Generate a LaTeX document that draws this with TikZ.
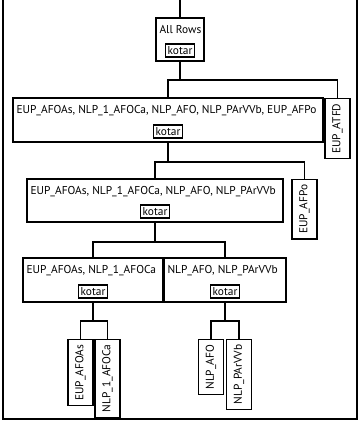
\documentclass[tikz,border=0pt]{standalone}
\usepackage{fontspec}
\setmainfont{PT Sans}
\usetikzlibrary{positioning}

\begin{document}
\begin{tikzpicture}
      [ x=1pt, y=-1pt
      , every node/.style={font=\fontsize{11.4}{13}\selectfont}
      , group/.style={draw, line width=1.3pt, inner sep=0pt}
      , title/.style={inner sep=0pt}
      , kotarbox/.style={draw, line width=1.3pt, inner xsep=2pt, inner ysep=2.5pt}
      , leaf/.style={draw, line width=1.3pt, rotate=90, anchor=east, minimum height=25pt, inner xsep=5pt}
      , link/.style={line width=1.3pt}
      ]
    \useasboundingbox (0,0) rectangle (361,423);
    \draw[line width=1.2pt] (3,0) -- (3,419) -- (357,419) -- (357,0);

    \node[group, minimum width=48, minimum height=43] (AR) at (180,39.5) {};
    \node[title, below right=8pt and 4pt of AR.north west] (ARt) {All Rows};
    \node[kotarbox, above=4pt of AR.south] (ARk) {kotar};

    \node[group, minimum width=310, minimum height=44] (L1) at (168,120) {};
    \node[title, below right=8pt and 4pt of L1.north west] (L1t)
      {EUP\_AFOAs, NLP\_1\_AFOCa, NLP\_AFO, NLP\_PArVVb, EUP\_AFPo};
    \node[kotarbox, above=4pt of L1.south] (L1k) {kotar};
    \node[leaf] (ATFD) at (337.5,98) {EUP\_ATFD};

    \node[group, minimum width=256, minimum height=43] (L2) at (155,200.5) {};
    \node[title, below right=8pt and 4pt of L2.north west] (L2t)
      {EUP\_AFOAs, NLP\_1\_AFOCa, NLP\_AFO, NLP\_PArVVb};
    \node[kotarbox, above=4pt of L2.south] (L2k) {kotar};
    \node[leaf] (AFPo) at (304.5,179) {EUP\_AFPo};

    \node[group, minimum width=140, minimum height=44] (L3a) at (93,280) {};
    \node[title, below right=8pt and 4pt of L3a.north west] (L3at)
      {EUP\_AFOAs, NLP\_1\_AFOCa};
    \node[kotarbox, above=4pt of L3a.south] (L3ak) {kotar};

    \node[group, minimum width=122, minimum height=44] (L3b) at (225,280) {};
    \node[title, below right=8pt and 4pt of L3b.north west] (L3bt)
      {NLP\_AFO, NLP\_PArVVb};
    \node[kotarbox, above=4pt of L3b.south] (L3bk) {kotar};

    \node[leaf] (AFOAs) at (80.5,339) {EUP\_AFOAs};
    \node[leaf] (AFOCa) at (107.5,339) {NLP\_1\_AFOCa};
    \node[leaf] (AFO) at (211,339) {NLP\_AFO};
    \node[leaf] (PArVVb) at (239,339) {NLP\_PArVVb};

    % bus lines
    \coordinate (top) at (0,0);
    \coordinate (bus1) at (0,80);
    \coordinate (bus2) at (0,162);
    \coordinate (bus3) at (0,242);
    \coordinate (bus4) at (0,321);

    \draw[link] (AR.north) -- (AR.north |- top);
    \draw[link] (AR.south) -- (AR.south |- bus1);
    \draw[link] (L1.north) |- (ATFD.east |- bus1) -- (ATFD.east);

    \draw[link] (L1.south) -- (L1.south |- bus2);
    \draw[link] (L2.north) |- (AFPo.east |- bus2) -- (AFPo.east);

    \draw[link] (L2.south) -- (L2.south |- bus3);
    \draw[link] (L3a.north) |- (L3b.north |- bus3) -- (L3b.north);

    \draw[link] (L3a.south) -- (L3a.south |- bus4);
    \draw[link] (AFOAs.east) |- (AFOCa.east |- bus4) -- (AFOCa.east);

    \draw[link] (L3b.south) -- (L3b.south |- bus4);
    \draw[link] (AFO.east) |- (PArVVb.east |- bus4) -- (PArVVb.east);
\end{tikzpicture}
\end{document}
